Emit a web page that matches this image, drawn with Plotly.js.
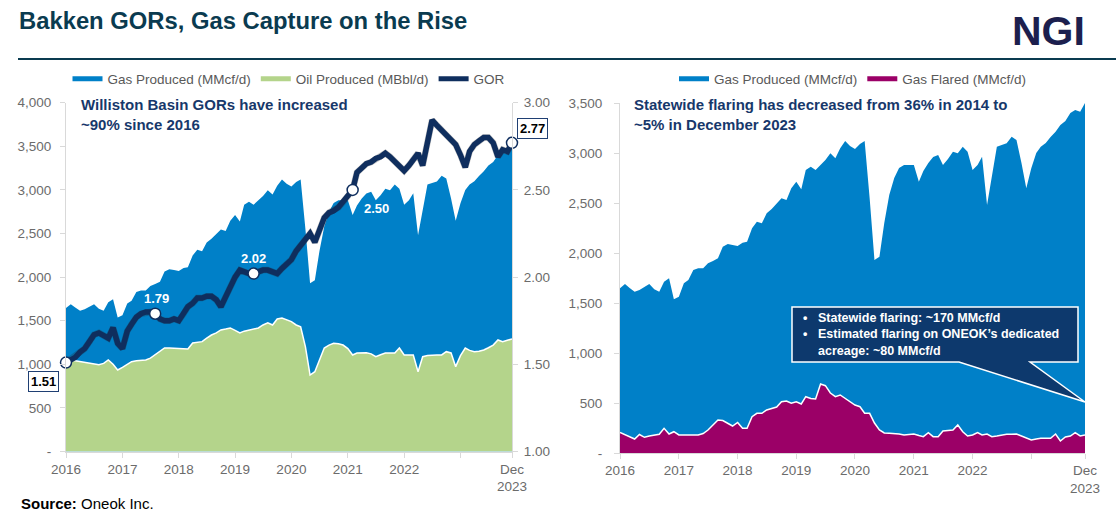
<!DOCTYPE html>
<html><head><meta charset="utf-8">
<script src="https://cdn.plot.ly/plotly-3.0.1.min.js"></script>
<style>html,body{margin:0;padding:0;background:#fff;}#chart{width:1116px;height:522px;}</style>
</head><body><div id="chart"></div>
<script>
// ---- data (monthly, Jan 2016 - Dec 2023) ----
const startYear = 2016, nMonths = 96;
const months = [];
for (let i = 0; i < nMonths; i++) {
  const y = startYear + Math.floor(i / 12), m = i % 12 + 1;
  months.push(y + '-' + String(m).padStart(2, '0') + '-01');
}
const gasProduced = [
  1647, 1690, 1650, 1613, 1630, 1660, 1690, 1637, 1613, 1713, 1747, 1537,
  1563, 1697, 1730, 1830, 1847, 1847, 1897, 1920, 1947, 2063, 2090, 2080,
  2070, 2103, 2113, 2247, 2313, 2297, 2397, 2440, 2500, 2547, 2530, 2647,
  2713, 2637, 2830, 2863, 2830, 2880, 2930, 2997, 2947, 3047, 3120, 3070,
  3040, 3090, 3120, 2550, 1930, 1963, 2300, 2580, 2750, 2850, 2880, 2880,
  2880, 2713, 2820, 2900, 2960, 2980, 2880, 2940, 3013, 2997, 3063, 3013,
  2830, 2880, 2963, 2480, 2780, 3063, 3080, 3097, 3163, 3130, 2900, 2647,
  2847, 3000, 3063, 3100, 3160, 3213, 3280, 3320, 3400, 3430, 3413, 3500
];
const oilProduced = [
  1050, 1050, 1040, 1030, 1025, 1015, 1005, 995, 1010, 1050, 1000, 935,
  965, 1000, 1030, 1041, 1045, 1050, 1070, 1110, 1145, 1187, 1187, 1185,
  1187, 1180, 1176, 1244, 1250, 1260, 1300, 1336, 1360, 1394, 1405, 1417,
  1390, 1359, 1380, 1394, 1410, 1417, 1451, 1477, 1451, 1520, 1531, 1508,
  1489, 1451, 1431, 1200, 877, 915, 1050, 1187, 1220, 1240, 1235, 1221,
  1180, 1107, 1130, 1132, 1133, 1120, 1087, 1110, 1130, 1130, 1130, 1187,
  1107, 1107, 1107, 915, 1087, 1100, 1107, 1107, 1107, 1145, 1130, 973,
  1100, 1187, 1160, 1145, 1150, 1164, 1190, 1220, 1279, 1260, 1275, 1290
];
const gor = [
  1.51, 1.53, 1.54, 1.57, 1.59, 1.63, 1.67, 1.68, 1.66, 1.65, 1.71, 1.62,
  1.59, 1.69, 1.73, 1.77, 1.79, 1.80, 1.80, 1.79, 1.76, 1.75, 1.75, 1.76,
  1.75, 1.79, 1.83, 1.85, 1.88, 1.88, 1.89, 1.89, 1.87, 1.83, 1.89, 1.95,
  2.00, 2.04, 2.03, 2.02, 2.02, 2.03, 2.04, 2.04, 2.03, 2.02, 2.05, 2.08,
  2.10, 2.15, 2.18, 2.22, 2.25, 2.20, 2.26, 2.34, 2.37, 2.38, 2.40, 2.43,
  2.46, 2.50, 2.60, 2.63, 2.65, 2.66, 2.68, 2.69, 2.71, 2.69, 2.66, 2.63,
  2.61, 2.64, 2.67, 2.71, 2.64, 2.77, 2.90, 2.87, 2.84, 2.81, 2.78, 2.76,
  2.70, 2.63, 2.72, 2.76, 2.78, 2.80, 2.80, 2.77, 2.69, 2.73, 2.72, 2.77
];
const gasFlared = [
  205, 180, 160, 140, 185, 157, 170, 180, 187, 247, 190, 213,
  180, 180, 178, 178, 180, 195, 230, 280, 330, 325, 300, 270,
  305, 247, 247, 363, 397, 397, 430, 447, 460, 513, 520, 497,
  513, 490, 563, 545, 540, 690, 673, 600, 563, 580, 545, 510,
  480, 463, 397, 397, 300, 230, 200, 197, 197, 190, 180, 185,
  190, 175, 163, 203, 163, 163, 220, 225, 230, 280, 213, 170,
  180, 205, 180, 190, 163, 170, 180, 187, 188, 190, 170, 150,
  130, 140, 147, 147, 147, 190, 120, 160, 170, 203, 170, 180
];
const gorLabelIdx = [0, 19, 40, 61, 95];
const xTickVals = ['2016-01-01','2017-01-01','2018-01-01','2019-01-01','2020-01-01','2021-01-01','2022-01-01','2023-01-01','2023-12-01'];
const xTickText = ['2016','2017','2018','2019','2020','2021','2022','','Dec<br>2023'];
const leftYVals = [0,500,1000,1500,2000,2500,3000,3500,4000];
const leftYText = ['-','500','1,000','1,500','2,000','2,500','3,000','3,500','4,000'];
const gorVals = [1,1.5,2,2.5,3];
const gorText = ['1.00','1.50','2.00','2.50','3.00'];
const rightYVals = [0,500,1000,1500,2000,2500,3000,3500];
const rightYText = ['-','500','1,000','1,500','2,000','2,500','3,000','3,500'];

// ---- styling ----
const W = 1116, H = 522;
const px = x => x / W, py = y => 1 - y / H;
const FONT = 'Liberation Sans, Arial, sans-serif';
const BLUE = '#0080c8', GREEN = '#b4d48b', NAVY = '#0f2e5e', MAGENTA = '#9b0067';
const GREY = '#6b6b6b', AXIS = '#d9d9d9';
const tickFont = {family: FONT, size: 13.5, color: GREY};
const DATE_RANGE = ['2016-01-01', '2023-12-01'];

const traces = [
  {x: months, y: gasProduced, xaxis: 'x', yaxis: 'y', type: 'scatter', mode: 'lines', fill: 'tozeroy',
   fillcolor: BLUE, line: {width: 0, color: BLUE}, showlegend: false, hoverinfo: 'skip'},
  {x: months, y: oilProduced, xaxis: 'x', yaxis: 'y', type: 'scatter', mode: 'lines', fill: 'tozeroy',
   fillcolor: GREEN, line: {width: 1.5, color: '#ffffff'}, showlegend: false, hoverinfo: 'skip'},
  // soft drop shadow of the GOR line (same data on a hidden axis shifted 2px down)
  {x: months, y: gor, xaxis: 'x', yaxis: 'y2', type: 'scatter', mode: 'lines',
   line: {width: 6.5, color: 'rgba(40,40,40,0.28)'}, showlegend: false, hoverinfo: 'skip'},
  {x: months, y: gor, xaxis: 'x3', yaxis: 'y4', type: 'scatter', mode: 'lines',
   line: {width: 5.5, color: NAVY}, showlegend: false, hoverinfo: 'skip'},
  {x: gorLabelIdx.map(i => months[i]), y: gorLabelIdx.map(i => gor[i]), xaxis: 'x3', yaxis: 'y4',
   type: 'scatter', mode: 'markers', cliponaxis: false,
   marker: {size: 11, color: '#ffffff', line: {color: NAVY, width: 1.5}}, showlegend: false, hoverinfo: 'skip'},
  // legend entries (left)
  {x: [null], y: [null], xaxis: 'x', yaxis: 'y', mode: 'lines', name: 'Gas Produced (MMcf/d)', line: {color: BLUE, width: 5}, legend: 'legend'},
  {x: [null], y: [null], xaxis: 'x', yaxis: 'y', mode: 'lines', name: 'Oil Produced (MBbl/d)', line: {color: GREEN, width: 5}, legend: 'legend'},
  {x: [null], y: [null], xaxis: 'x', yaxis: 'y', mode: 'lines', name: 'GOR', line: {color: NAVY, width: 5}, legend: 'legend'},
  // right chart
  {x: months, y: gasProduced, xaxis: 'x2', yaxis: 'y3', type: 'scatter', mode: 'lines', fill: 'tozeroy',
   fillcolor: BLUE, line: {width: 0, color: BLUE}, showlegend: false, hoverinfo: 'skip'},
  {x: months, y: gasFlared, xaxis: 'x2', yaxis: 'y3', type: 'scatter', mode: 'lines', fill: 'tozeroy',
   fillcolor: MAGENTA, line: {width: 1.5, color: '#ffffff'}, showlegend: false, hoverinfo: 'skip'},
  {x: [null], y: [null], xaxis: 'x2', yaxis: 'y3', mode: 'lines', name: 'Gas Produced (MMcf/d)', line: {color: BLUE, width: 5}, legend: 'legend2'},
  {x: [null], y: [null], xaxis: 'x2', yaxis: 'y3', mode: 'lines', name: 'Gas Flared (MMcf/d)', line: {color: MAGENTA, width: 5}, legend: 'legend2'}
];

const xCommon = {
  type: 'date', range: DATE_RANGE, tickmode: 'array', tickvals: xTickVals, ticktext: xTickText,
  showline: true, linecolor: AXIS, linewidth: 1, ticks: 'outside', ticklen: 5, tickcolor: AXIS,
  showgrid: false, zeroline: false, tickfont: tickFont, fixedrange: true
};
const yCommon = {
  tickmode: 'array', showline: true, linecolor: AXIS, linewidth: 1, ticks: 'outside', ticklen: 5, tickcolor: AXIS,
  showgrid: false, zeroline: false, tickfont: tickFont, fixedrange: true
};
const hidden = {visible: false, showgrid: false, zeroline: false, showline: false, showticklabels: false, fixedrange: true};

const gorAnn = (idx, xs, ys, boxed) => Object.assign({
  x: months[idx], y: gor[idx], xref: 'x3', yref: 'y4', showarrow: false, xshift: xs, yshift: ys,
  text: '<b>' + gor[idx].toFixed(2) + '</b>',
  font: {family: FONT, size: 13, color: boxed ? '#000000' : '#ffffff'}
}, boxed ? {bgcolor: '#ffffff', bordercolor: '#1f3f73', borderwidth: 1, borderpad: 2} : {});

const layout = {
  width: W, height: H, margin: {l: 0, r: 0, t: 0, b: 0},
  paper_bgcolor: '#ffffff', plot_bgcolor: 'rgba(0,0,0,0)',
  font: {family: FONT, color: GREY},
  title: {text: '<b>Bakken GORs, Gas Capture on the Rise</b>', x: px(19), xanchor: 'left', xref: 'paper',
          y: py(21), yanchor: 'middle', yref: 'paper', font: {family: FONT, size: 23.8, color: '#0a3b50'}},
  xaxis: Object.assign({}, xCommon, {domain: [px(66), px(512)], anchor: 'y'}),
  yaxis: Object.assign({}, yCommon, {domain: [py(451.5), py(102.7)], range: [0, 4000], tickvals: leftYVals, ticktext: leftYText, anchor: 'x', ticklabelstandoff: 6}),
  // hidden shadow axis (2px lower than the GOR axis)
  yaxis2: Object.assign({}, hidden, {range: [1, 3], domain: [py(453.5), py(104.7)], anchor: 'x', overlaying: 'y'}),
  // GOR axes (same placement as the left plot, right-hand scale)
  xaxis3: Object.assign({}, hidden, {type: 'date', range: DATE_RANGE, domain: [px(66), px(512)], anchor: 'y4', overlaying: 'x'}),
  yaxis4: Object.assign({}, yCommon, {domain: [py(451.5), py(102.7)], overlaying: 'y', side: 'right', range: [1, 3],
                                      tickvals: gorVals, ticktext: gorText, anchor: 'x3', ticklabelstandoff: 3}),
  xaxis2: Object.assign({}, xCommon, {domain: [px(620), px(1085)], anchor: 'y3'}),
  yaxis3: Object.assign({}, yCommon, {domain: [py(453), py(103)], range: [0, 3500], tickvals: rightYVals, ticktext: rightYText, anchor: 'x2', ticklabelstandoff: 9}),
  legend: {orientation: 'h', x: px(289), xanchor: 'center', y: py(79), yanchor: 'middle', itemwidth: 30,
           bgcolor: 'rgba(0,0,0,0)', font: {family: FONT, size: 13.5, color: '#595959'}},
  legend2: {orientation: 'h', x: px(853), xanchor: 'center', y: py(79), yanchor: 'middle', itemwidth: 30,
           bgcolor: 'rgba(0,0,0,0)', font: {family: FONT, size: 13.5, color: '#595959'}},
  shapes: [
    {type: 'line', xref: 'paper', yref: 'paper', x0: px(18), x1: 1, y0: py(59), y1: py(59), line: {color: '#0a3b50', width: 2}},
    {type: 'path', xref: 'paper', yref: 'paper', layer: 'above', fillcolor: '#0d396d', line: {color: '#ffffff', width: 1.5},
     path: 'M ' + px(792) + ' ' + py(307) + ' L ' + px(1078) + ' ' + py(307) + ' L ' + px(1078) + ' ' + py(362) +
           ' L ' + px(1030) + ' ' + py(362) + ' L ' + px(1085) + ' ' + py(402) + ' L ' + px(959) + ' ' + py(362) +
           ' L ' + px(792) + ' ' + py(362) + ' Z'}
  ],
  annotations: [
    {xref: 'paper', yref: 'paper', x: px(1087), y: py(31), xanchor: 'right', yanchor: 'middle', showarrow: false,
     text: '<b>NGI</b>', font: {family: FONT, size: 41, color: '#1c1f4e'}},
    {xref: 'paper', yref: 'paper', x: px(19), y: py(503), xanchor: 'left', yanchor: 'middle', showarrow: false,
     text: '<b>Source:</b> Oneok Inc.', font: {family: FONT, size: 15, color: '#000000'}},
    {xref: 'paper', yref: 'paper', x: px(79), y: py(94), xanchor: 'left', yanchor: 'top', align: 'left', showarrow: false,
     text: '<b>Williston Basin GORs have increased<br>~90% since 2016</b>', font: {family: FONT, size: 15, color: '#17386b'}},
    {xref: 'paper', yref: 'paper', x: px(632), y: py(94), xanchor: 'left', yanchor: 'top', align: 'left', showarrow: false,
     text: '<b>Statewide flaring has decreased from 36% in 2014 to<br>~5% in December 2023</b>', font: {family: FONT, size: 15, color: '#17386b'}},
    {xref: 'paper', yref: 'paper', x: px(801), y: py(334.5), xanchor: 'left', yanchor: 'middle', align: 'left', showarrow: false,
     text: '<b>•<br>•<br> </b>', font: {family: FONT, size: 12.5, color: '#ffffff'}},
    {xref: 'paper', yref: 'paper', x: px(816), y: py(334.5), xanchor: 'left', yanchor: 'middle', align: 'left', showarrow: false,
     text: '<b>Statewide flaring: ~170 MMcf/d<br>Estimated flaring on ONEOK’s dedicated<br>acreage: ~80 MMcf/d</b>',
     font: {family: FONT, size: 12.5, color: '#ffffff'}},
    gorAnn(0, -23, -19, true),
    gorAnn(19, 1, 15, false),
    gorAnn(40, 0, 15, false),
    gorAnn(61, 24, -19, false),
    gorAnn(95, 20, 14, true)
  ]
};

Plotly.newPlot('chart', traces, layout, {staticPlot: true, displayModeBar: false});
</script>
</body></html>
